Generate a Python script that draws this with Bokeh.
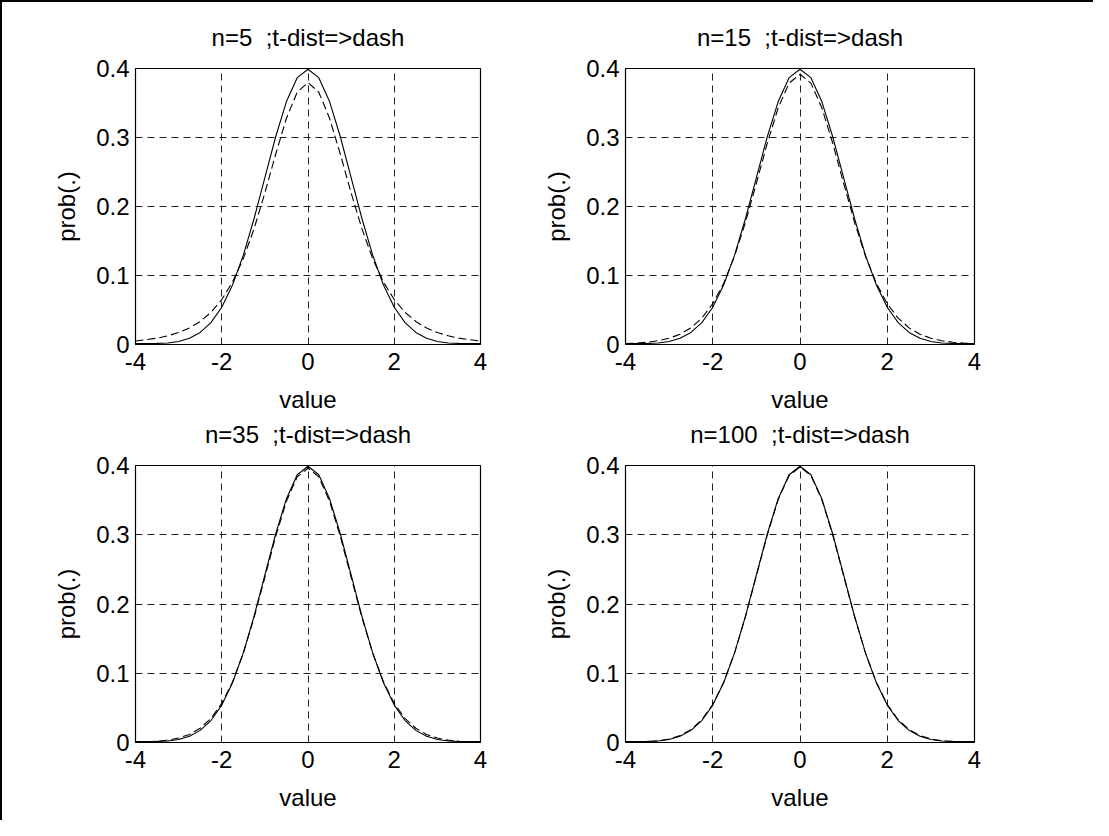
from bokeh.plotting import figure
from bokeh.layouts import row, column
from bokeh.models import Range1d, FixedTicker, CustomJSTickFormatter
from bokeh.embed import file_html
from bokeh.resources import INLINE

# ---------------- data ----------------
x_values = [-4.0, -3.75, -3.5, -3.25, -3.0, -2.75, -2.5, -2.25, -2.0, -1.75, -1.5,
            -1.25, -1.0, -0.75, -0.5, -0.25, 0.0, 0.25, 0.5, 0.75, 1.0, 1.25,
            1.5, 1.75, 2.0, 2.25, 2.5, 2.75, 3.0, 3.25, 3.5, 3.75, 4.0]

normal_prob = [0.0015, 0.0015, 0.0016, 0.0022, 0.0044, 0.0091, 0.0175, 0.0317, 0.0540,
               0.0863, 0.1295, 0.1826, 0.2420, 0.3011, 0.3521, 0.3867, 0.3989,
               0.3867, 0.3521, 0.3011, 0.2420, 0.1826, 0.1295, 0.0863, 0.0540,
               0.0317, 0.0175, 0.0091, 0.0044, 0.0022, 0.0016, 0.0015, 0.0015]

t_prob_n5 = [0.0051, 0.0069, 0.0092, 0.0126, 0.0173, 0.0239, 0.0333, 0.0466, 0.0651,
             0.0905, 0.1245, 0.1679, 0.2197, 0.2757, 0.3279, 0.3657, 0.3796,
             0.3657, 0.3279, 0.2757, 0.2197, 0.1679, 0.1245, 0.0905, 0.0651,
             0.0466, 0.0333, 0.0239, 0.0173, 0.0126, 0.0092, 0.0069, 0.0051]

t_prob_n15 = [0.0012, 0.0020, 0.0033, 0.0055, 0.0091, 0.0149, 0.0241, 0.0383, 0.0591,
              0.0886, 0.1280, 0.1772, 0.2337, 0.2917, 0.3431, 0.3788, 0.3916,
              0.3788, 0.3431, 0.2917, 0.2337, 0.1772, 0.1280, 0.0886, 0.0591,
              0.0383, 0.0241, 0.0149, 0.0091, 0.0055, 0.0033, 0.0020, 0.0012]

t_prob_n35 = [0.0005, 0.0009, 0.0018, 0.0034, 0.0064, 0.0117, 0.0206, 0.0348, 0.0565,
              0.0875, 0.1291, 0.1805, 0.2386, 0.2973, 0.3484, 0.3836, 0.3961,
              0.3836, 0.3484, 0.2973, 0.2386, 0.1805, 0.1291, 0.0875, 0.0565,
              0.0348, 0.0206, 0.0117, 0.0064, 0.0034, 0.0018, 0.0009, 0.0005]

t_prob_n100 = [0.0002, 0.0005, 0.0012, 0.0025, 0.0051, 0.0100, 0.0186, 0.0329, 0.0549,
               0.0867, 0.1294, 0.1819, 0.2407, 0.2997, 0.3508, 0.3855, 0.3979,
               0.3855, 0.3508, 0.2997, 0.2407, 0.1819, 0.1294, 0.0867, 0.0549,
               0.0329, 0.0186, 0.0100, 0.0051, 0.0025, 0.0012, 0.0005, 0.0002]

panel_titles = ["n=5\u00a0\u00a0;t-dist=>dash", "n=15\u00a0\u00a0;t-dist=>dash",
                "n=35\u00a0\u00a0;t-dist=>dash", "n=100\u00a0\u00a0;t-dist=>dash"]
t_series = [t_prob_n5, t_prob_n15, t_prob_n35, t_prob_n100]
x_ticks = [-4, -2, 0, 2, 4]
y_ticks = [0, 0.1, 0.2, 0.3, 0.4]
x_label = "value"
y_label = "prob(.)"

FONT = "Liberation Sans"
FS = "24px"

# layout geometry: (width, left, right) per column, (height, top, bottom) per row
col_geo = [(530, 133, 52), (561, 93, 119)]
row_geo = [(422, 66, 80), (425, 70, 78)]
ROW_OVERLAP = 29


def make_panel(i):
    r, c = divmod(i, 2)
    w, bl, br = col_geo[c]
    h, bt, bb = row_geo[r]
    p = figure(width=w, height=h, x_range=Range1d(-4, 4), y_range=Range1d(0, 0.4),
               output_backend="svg", toolbar_location=None,
               title=panel_titles[i],
               min_border_left=bl, min_border_right=br,
               min_border_top=bt, min_border_bottom=bb)
    p.background_fill_color = "white"
    p.border_fill_color = None
    p.outline_line_color = "black"
    p.outline_line_width = 1.2

    p.title.align = "center"
    p.title.text_font = FONT
    p.title.text_font_size = FS
    p.title.text_font_style = "normal"
    p.title.text_color = "black"
    p.title.standoff = 35

    p.xaxis.ticker = FixedTicker(ticks=x_ticks)
    p.yaxis.ticker = FixedTicker(ticks=y_ticks)
    fmt = "return tick.toString();"
    p.xaxis.formatter = CustomJSTickFormatter(code=fmt)
    p.yaxis.formatter = CustomJSTickFormatter(code=fmt)
    for ax in (p.xaxis, p.yaxis):
        ax.axis_line_color = None
        ax.major_tick_line_color = None
        ax.minor_tick_line_color = None
        ax.major_tick_out = 0
        ax.major_tick_in = 0
        ax.minor_tick_out = 0
        ax.minor_tick_in = 0
        ax.major_label_text_font = FONT
        ax.major_label_text_font_size = FS
        ax.major_label_text_color = "black"
        ax.axis_label_text_font = FONT
        ax.axis_label_text_font_size = FS
        ax.axis_label_text_font_style = "normal"
        ax.axis_label_text_color = "black"
    p.xaxis.axis_label = x_label
    p.yaxis.axis_label = y_label
    p.xaxis.major_label_standoff = 8
    p.yaxis.major_label_standoff = 6
    p.xaxis.axis_label_standoff = 13
    p.yaxis.axis_label_standoff = 13

    for g in (p.xgrid, p.ygrid):
        g.grid_line_color = "#222222"
        g.grid_line_dash = "7 5"
        g.grid_line_width = 1

    p.line(x_values, normal_prob, line_color="black", line_width=1.1)
    p.line(x_values, t_series[i], line_color="black", line_width=1.1,
           line_dash="8 4")
    return p


panels = [make_panel(i) for i in range(4)]
top_row = row(panels[0], panels[1])
bottom_row = row(panels[2], panels[3],
                 styles={"margin-top": "-%dpx" % ROW_OVERLAP})
page = column(top_row, bottom_row,
              styles={"border-left": "2px solid black",
                      "border-top": "2px solid black"})

open("out.html", "w").write(file_html(page, INLINE))
